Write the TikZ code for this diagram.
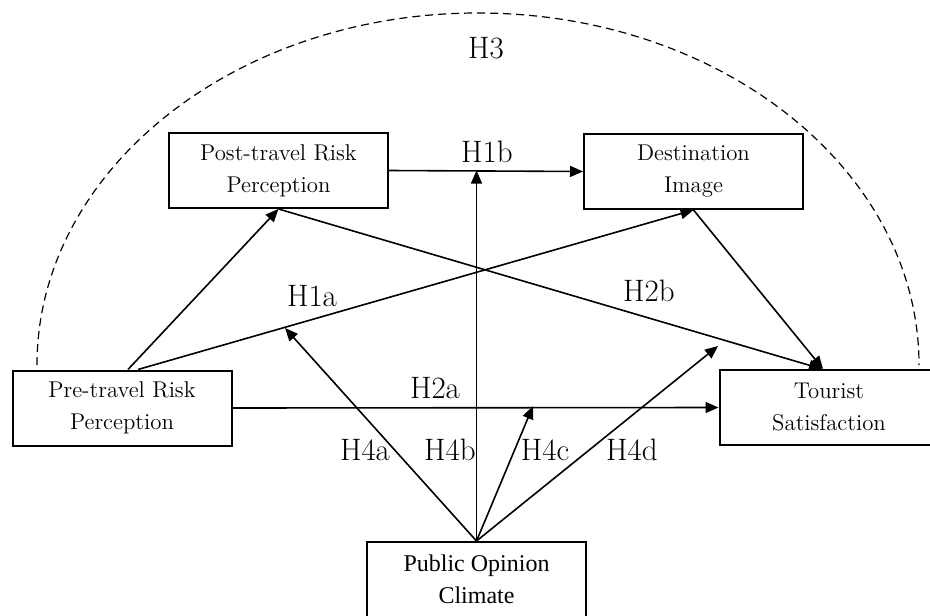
\documentclass[tikz,border=0pt]{standalone}
\usepackage{fontspec}
\newfontfamily\timesfont{Liberation Serif}
\usetikzlibrary{arrows.meta, calc}

\begin{document}
\begin{tikzpicture}[
    x=0.5pt, y=-0.5pt,
    box/.style={rectangle, draw, line width=1pt, minimum width=109.5pt, minimum height=37.5pt, inner sep=0pt, align=center, font=\fontsize{11.4}{16}\selectfont},
    hyp/.style={font=\fontsize{15.5}{18}\selectfont, inner sep=0pt},
    arrow/.style={-{Triangle[length=6.5pt, width=5.5pt]}, line width=0.8pt}
]
    \clip (0,0) rectangle (930,615);

    % --- Constructs ---
    \node[box] (post) at (278.5,170.5) {Post-travel Risk\\Perception};
    \node[box] (dest) at (693.5,171.5) {Destination\\Image};
    \node[box] (pre) at (122,408) {Pre-travel Risk\\Perception};
    \node[box] (tour) at (829,407.5) {Tourist\\Satisfaction};
    \node[box, font=\timesfont\fontsize{12}{16}\selectfont] (pub) at (476.5,579.5) {Public Opinion\\Climate};

    % --- H3 boundary ---
    \draw[dashed, dash pattern=on 4pt off 2.5pt, line width=0.6pt] (37,365) arc[start angle=180, end angle=360, x radius=441, y radius=352];
    \node[hyp] (h3) at (486,48) {H3};

    % --- Direct paths ---
    \draw[arrow] ($(pre.north)+(6,0)$) -- (post.south);
    \draw[arrow] ($(pre.north)+(16,0)$) -- (dest.south);
    \draw[arrow] (post.east) -- (dest.west);
    \draw[arrow] (pre.east) -- (tour.west);
    \draw[arrow] (post.south) -- ($(tour.north)+(-7,0)$);
    \draw[arrow] (dest.south) -- ($(tour.north)+(-6,0)$);

    % --- Moderation ends ---
    \coordinate (m4a) at (285,328);
    \coordinate (m4b) at (pub.north |- post.east);
    \coordinate (m4c) at (533,406);
    \coordinate (m4d) at (718,346);
    \foreach \m in {m4a, m4b, m4c, m4d} {
        \draw[arrow] (pub.north) -- (\m);
    }

    % --- Hypothesis labels ---
    \node[hyp] (h1a) at (312,296) {H1a};
    \node[hyp] (h1b) at (487,152) {H1b};
    \node[hyp] (h2a) at (435,388) {H2a};
    \node[hyp] (h2b) at (649,291) {H2b};
    \foreach \x/\name in {365/H4a, 450/H4b, 545/H4c, 632/H4d} {
        \node[hyp] at (\x,450) {\name};
    }
\end{tikzpicture}
\end{document}
